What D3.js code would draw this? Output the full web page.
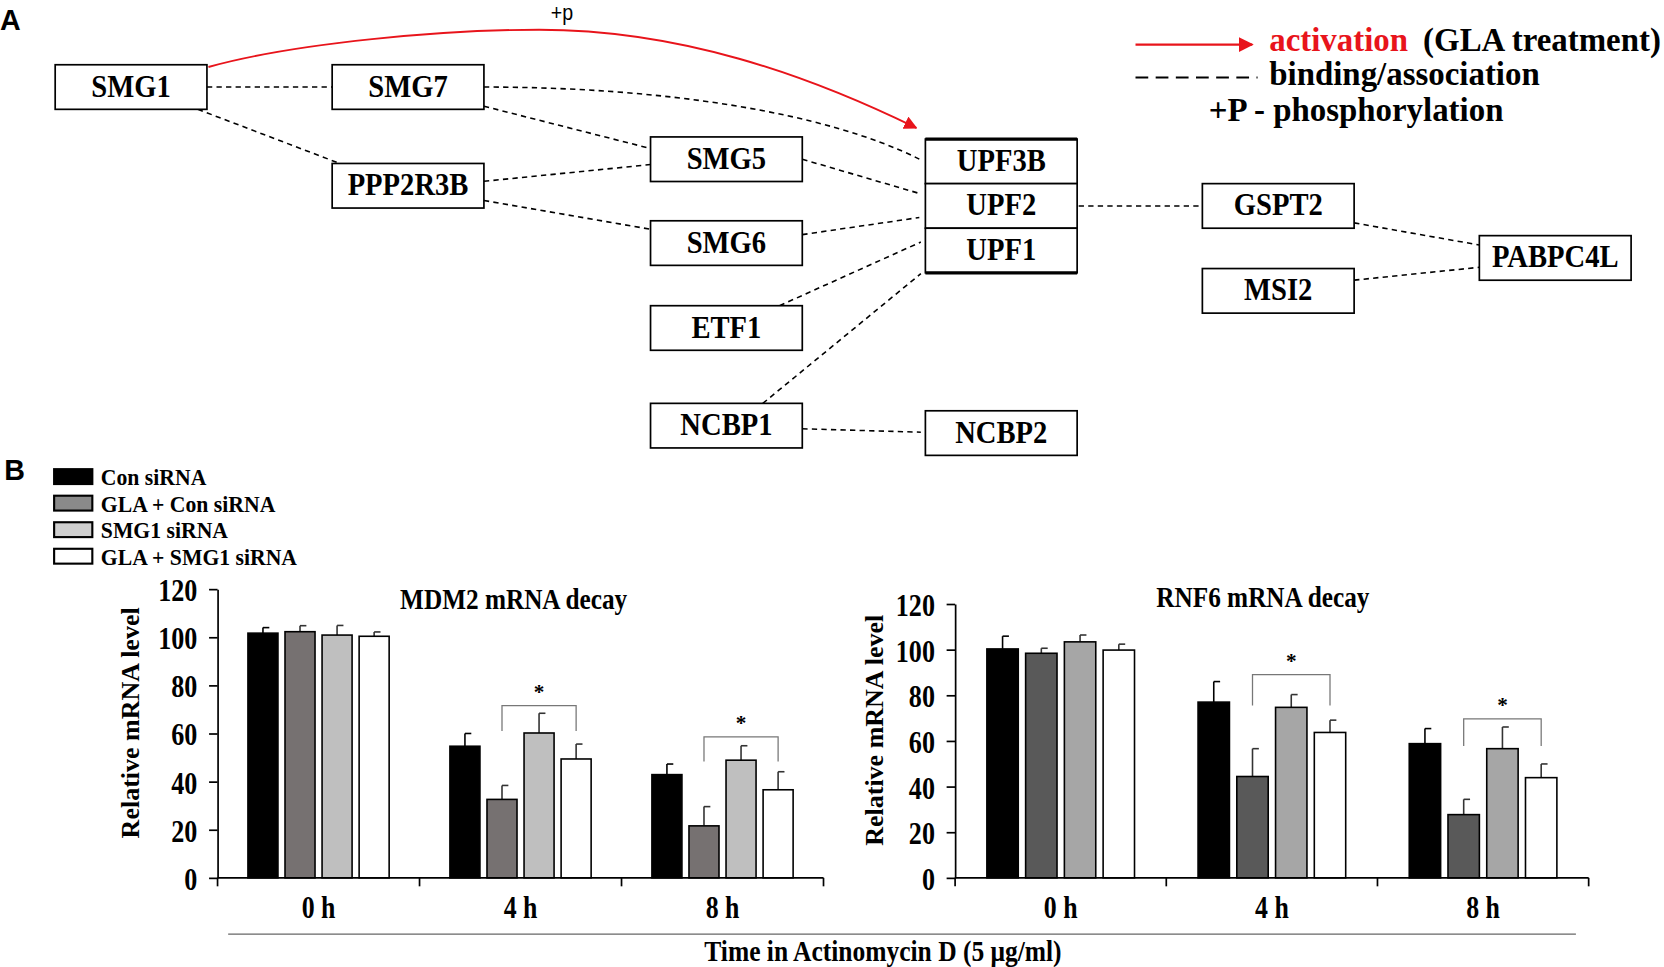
<!DOCTYPE html>
<html>
<head>
<meta charset="utf-8">
<script src="https://cdn.jsdelivr.net/npm/d3@7"></script>
<style>
  html, body { margin: 0; background: #fff; }
  svg { display: block; }
</style>
</head>
<body>
<div id="fig"></div>
<script>
// ---- data ----
var groups = ["0 h", "4 h", "8 h"];
var series = ["Con siRNA", "GLA + Con siRNA", "SMG1 siRNA", "GLA + SMG1 siRNA"];

var mdm2Values = [[101.7, 102.3, 100.9, 100.4], [54.7, 32.6, 60.2, 49.4], [42.9, 21.6, 48.9, 36.6]];
var mdm2Errors = [[2.3, 2.5, 4.0, 1.8], [5.3, 5.8, 8.2, 6.2], [4.4, 8.0, 6.0, 7.5]];
var mdm2Sig = [{g: 1, a: 1, b: 3, top: 71.6, leg: 61}, {g: 2, a: 1, b: 3, top: 58.6, leg: 48.4}];

var rnf6Values = [[100.3, 98.4, 103.4, 99.8], [77.0, 44.4, 74.7, 63.7], [58.8, 27.7, 56.6, 43.9]];
var rnf6Errors = [[5.6, 2.2, 3.0, 2.6], [9.0, 12.2, 5.6, 5.4], [6.6, 6.7, 9.5, 6.0]];
var rnf6Sig = [{g: 1, a: 1, b: 3, top: 89, leg: 75.5}, {g: 2, a: 1, b: 3, top: 69.7, leg: 57.8}];

var yTicks = [0, 20, 40, 60, 80, 100, 120];

var nodes = ["SMG1", "SMG7", "PPP2R3B", "SMG5", "SMG6", "ETF1", "NCBP1",
             "UPF3B", "UPF2", "UPF1", "NCBP2", "GSPT2", "MSI2", "PABPC4L"];
var links = [["SMG1", "SMG7"], ["SMG1", "PPP2R3B"], ["SMG7", "UPF3B"], ["SMG7", "SMG5"],
             ["PPP2R3B", "SMG5"], ["PPP2R3B", "SMG6"], ["SMG5", "UPF2"], ["SMG6", "UPF2"],
             ["ETF1", "UPF1"], ["NCBP1", "UPF1"], ["NCBP1", "NCBP2"], ["UPF2", "GSPT2"],
             ["GSPT2", "PABPC4L"], ["MSI2", "PABPC4L"]];

// ---- layout (drawing units, 1568 wide) ----
var boxW = 143, boxH = 42;
var boxPos = {
  SMG1: [52, 61], SMG7: [313, 61], PPP2R3B: [313, 154],
  SMG5: [613, 129], SMG6: [613, 208], ETF1: [613, 288], NCBP1: [613, 380],
  UPF3B: [872, 131], UPF2: [872, 173], UPF1: [872, 215], NCBP2: [872, 387],
  GSPT2: [1133, 173], MSI2: [1133, 253], PABPC4L: [1394, 222]
};
// attach points as fractions of box [fx, fy] for source and target
var linkAnchors = [
  [[1, .5], [0, .5]], [[.94, 1], [.05, 0]], [[1, .5], [-.04, .45]], [[1, .93], [0, .26]],
  [[1, .4], [0, .62]], [[1, .83], [0, .19]], [[1, .5], [-.04, .22]], [[1, .31], [-.04, .76]],
  [[.85, 0], [-.03, .31]], [[.74, 0], [-.03, 1.02]], [[1, .57], [-.03, .48]], [[1.01, .5], [0, .5]],
  [[1, .88], [0, .21]], [[1, .26], [0, .71]]
];

var W = 1568, H = 911;
var serif = "'Liberation Serif', 'Times New Roman', serif";
var sans = "'Liberation Sans', Arial, sans-serif";

var svg = d3.select("#fig").append("svg")
  .attr("width", 1664).attr("height", 967)
  .attr("viewBox", "0 0 " + W + " " + H)
  .attr("preserveAspectRatio", "none");

svg.append("defs").append("marker")
  .attr("id", "redhead").attr("viewBox", "0 0 10 10")
  .attr("refX", 9).attr("refY", 5)
  .attr("markerWidth", 7).attr("markerHeight", 7)
  .attr("markerUnits", "strokeWidth")
  .attr("orient", "auto")
  .append("path").attr("d", "M0,0 L10,5 L0,10 z").attr("fill", "#e8141b");

// text with horizontal squeeze
function label(g, x, y, s, size, opts) {
  opts = opts || {};
  return g.append("text")
    .attr("transform", "translate(" + x + "," + y + ") scale(" + (opts.sx || 1) + ",1)")
    .attr("text-anchor", opts.anchor || "start")
    .attr("fill", opts.fill || "#000")
    .style("font-family", opts.font || serif)
    .style("font-weight", opts.weight || "bold")
    .style("font-size", size + "px")
    .text(s);
}

// ================= panel A =================
var A = svg.append("g");
label(A, 0, 28, "A", 27, {font: sans});
label(A, 519, 19, "+p", 21, {font: sans, weight: "normal", sx: 0.88});

function anchorPt(name, f) {
  var p = boxPos[name];
  return [p[0] + f[0] * boxW, p[1] + f[1] * boxH];
}

links.forEach(function(l, i) {
  var s = anchorPt(l[0], linkAnchors[i][0]),
      t = anchorPt(l[1], linkAnchors[i][1]);
  var d;
  if (l[0] == "SMG7" && l[1] == "UPF3B") {
    d = "M" + s + " C" + (s[0] + 165) + "," + s[1] + " " + (t[0] - 90) + "," + (t[1] - 45) + " " + t;
  } else {
    d = "M" + s + " L" + t;
  }
  A.append("path").attr("d", d)
    .attr("fill", "none").attr("stroke", "#000")
    .attr("stroke-width", 1.5).attr("stroke-dasharray", "5,4");
});

// activation arrow SMG1 -> UPF3B
var s1 = anchorPt("SMG1", [1.01, .05]), t1 = anchorPt("UPF3B", [-.06, -.25]);
A.append("path")
  .attr("d", "M" + s1 + " C280,40 420,28 508,28 C640,28 760,70 " + t1)
  .attr("fill", "none").attr("stroke", "#e8141b").attr("stroke-width", 1.8)
  .attr("marker-end", "url(#redhead)");

nodes.forEach(function(n) {
  var p = boxPos[n];
  A.append("rect").attr("x", p[0]).attr("y", p[1])
    .attr("width", boxW).attr("height", boxH)
    .attr("fill", "#fff").attr("stroke", "#000").attr("stroke-width", 1.6);
  label(A, p[0] + boxW / 2, p[1] + 30, n, 29, {anchor: "middle", sx: 0.93});
});
// thick outer edge of the UPF complex
A.append("line").attr("x1", boxPos.UPF3B[0]).attr("x2", boxPos.UPF3B[0] + boxW)
  .attr("y1", boxPos.UPF3B[1]).attr("y2", boxPos.UPF3B[1])
  .attr("stroke", "#000").attr("stroke-width", 3);
A.append("line").attr("x1", boxPos.UPF1[0]).attr("x2", boxPos.UPF1[0] + boxW)
  .attr("y1", boxPos.UPF1[1] + boxH).attr("y2", boxPos.UPF1[1] + boxH)
  .attr("stroke", "#000").attr("stroke-width", 3);

// legend A
A.append("line").attr("x1", 1070).attr("x2", 1180).attr("y1", 42).attr("y2", 42)
  .attr("stroke", "#e8141b").attr("stroke-width", 2).attr("marker-end", "url(#redhead)");
label(A, 1196, 48, "activation", 31, {fill: "#e8141b"});
label(A, 1341, 48, "(GLA treatment)", 31);
A.append("line").attr("x1", 1070).attr("x2", 1185).attr("y1", 73).attr("y2", 73)
  .attr("stroke", "#000").attr("stroke-width", 2).attr("stroke-dasharray", "12,7");
label(A, 1196, 80, "binding/association", 31);
label(A, 1139, 114, "+P - phosphorylation", 31);

// ================= panel B =================
var B = svg.append("g");
label(B, 4, 452, "B", 27, {font: sans});

var legendFill = ["#000", "#8a8a8a", "#cfcfcf", "#fff"];
series.forEach(function(s, i) {
  var y = 442 + i * 25;
  B.append("rect").attr("x", 51).attr("y", y).attr("width", 36).attr("height", 14)
    .attr("fill", legendFill[i]).attr("stroke", "#000").attr("stroke-width", 2);
  label(B, 95, y + 15, s, 22, {sx: 0.93});
});

function barChart(opt) {
  var g = B.append("g");
  var y = d3.scaleLinear().domain([0, 120]).range([827, opt.top]);
  var x0 = d3.scaleBand().domain(groups).range([opt.left, opt.right]).padding(0);
  var x1 = d3.scaleBand().domain(d3.range(series.length))
    .range([0, x0.bandwidth()]).paddingInner(0.19).paddingOuter(0.82);

  // bars
  groups.forEach(function(grp, gi) {
    var gg = g.append("g").attr("transform", "translate(" + x0(grp) + ",0)");
    series.forEach(function(s, si) {
      var v = opt.values[gi][si], e = opt.errors[gi][si];
      var cx = x1(si) + x1.bandwidth() / 2;
      gg.append("line").attr("x1", cx).attr("x2", cx)
        .attr("y1", y(v)).attr("y2", y(v + e))
        .attr("stroke", si == 0 ? "#000" : "#333").attr("stroke-width", 1.5);
      gg.append("line").attr("x1", cx).attr("x2", cx + 6)
        .attr("y1", y(v + e)).attr("y2", y(v + e))
        .attr("stroke", si == 0 ? "#000" : "#333").attr("stroke-width", 1.5);
      gg.append("rect").attr("x", x1(si)).attr("y", y(v))
        .attr("width", x1.bandwidth()).attr("height", y(0) - y(v))
        .attr("fill", opt.colors[si]).attr("stroke", "#000").attr("stroke-width", 1.5);
    });
  });

  // significance brackets
  opt.sig.forEach(function(b) {
    var xa = x0(groups[b.g]) + x1(b.a) + x1.bandwidth() / 2,
        xb = x0(groups[b.g]) + x1(b.b) + x1.bandwidth() / 2;
    g.append("path")
      .attr("d", "M" + xa + "," + y(b.leg) + " V" + y(b.top) + " H" + xb + " V" + y(b.leg))
      .attr("fill", "none").attr("stroke", "#777").attr("stroke-width", 1.2);
    label(g, (xa + xb) / 2, y(b.top) - 6, "*", 20, {anchor: "middle"});
  });

  // y axis
  var ya = g.append("g").attr("transform", "translate(" + opt.left + ",0)")
    .call(d3.axisLeft(y).tickValues(yTicks).tickSize(8).tickSizeOuter(0).tickPadding(4));
  ya.select(".domain").attr("stroke", "#000").attr("stroke-width", 1.6);
  ya.selectAll(".tick line").attr("stroke", "#000").attr("stroke-width", 1.6);
  ya.selectAll(".tick text")
    .attr("x", -19 / 0.82).attr("dy", "0.36em")
    .attr("transform", "scale(0.82,1)")
    .style("font-family", serif).style("font-weight", "bold").style("font-size", "30px");

  // x axis with ticks at group boundaries
  g.append("line").attr("x1", opt.left).attr("x2", opt.right)
    .attr("y1", y(0)).attr("y2", y(0)).attr("stroke", "#000").attr("stroke-width", 1.6);
  groups.concat([null]).forEach(function(grp, i) {
    var xx = grp ? x0(grp) : opt.right;
    g.append("line").attr("x1", xx).attr("x2", xx).attr("y1", y(0)).attr("y2", y(0) + 8)
      .attr("stroke", "#000").attr("stroke-width", 1.6);
  });
  groups.forEach(function(grp) {
    label(g, x0(grp) + x0.bandwidth() / 2, 865, grp, 29, {anchor: "middle", sx: 0.84});
  });

  label(g, opt.titleX, opt.titleY, opt.title, 28, {anchor: "middle", sx: 0.85});
  g.append("text")
    .attr("transform", "translate(" + opt.ylabX + "," + opt.ylabY + ") rotate(-90)")
    .attr("text-anchor", "middle")
    .style("font-family", serif).style("font-weight", "bold").style("font-size", "24.5px")
    .text("Relative mRNA level");
}

barChart({left: 205, right: 776, top: 555, values: mdm2Values, errors: mdm2Errors, sig: mdm2Sig,
  colors: ["#000", "#767171", "#bfbfbf", "#fff"],
  title: "MDM2 mRNA decay", titleX: 484, titleY: 574, ylabX: 131, ylabY: 681});
barChart({left: 900, right: 1497, top: 569, values: rnf6Values, errors: rnf6Errors, sig: rnf6Sig,
  colors: ["#000", "#595959", "#a6a6a6", "#fff"],
  title: "RNF6 mRNA decay", titleX: 1190, titleY: 572, ylabX: 832, ylabY: 688});

B.append("line").attr("x1", 215).attr("x2", 1485).attr("y1", 880).attr("y2", 880)
  .attr("stroke", "#666").attr("stroke-width", 1.3);
label(B, 832, 905, "Time in Actinomycin D (5 μg/ml)", 27, {anchor: "middle", sx: 0.89});
</script>
</body>
</html>
